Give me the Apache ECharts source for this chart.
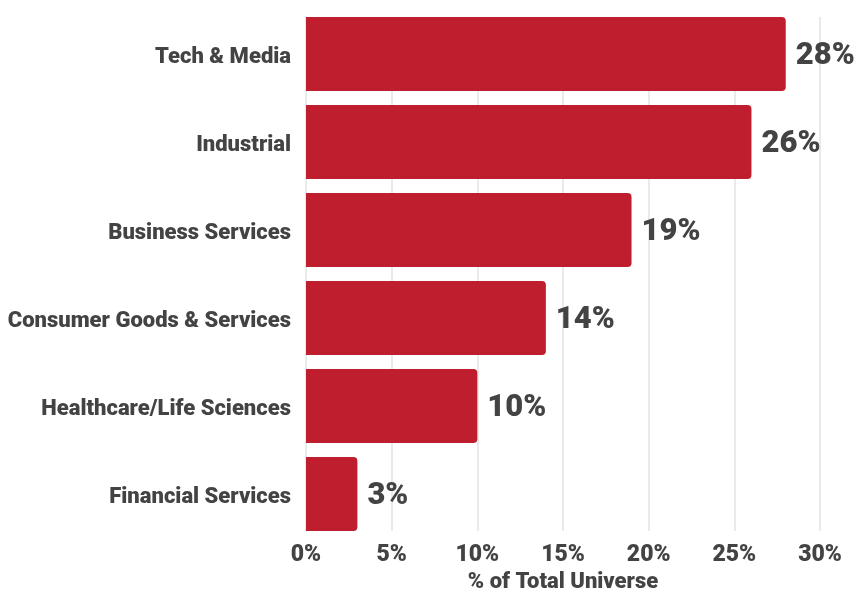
<!DOCTYPE html>
<html>
<head>
<meta charset="utf-8">
<script src="https://cdn.jsdelivr.net/npm/echarts@6/dist/echarts.min.js"></script>
<style>
  html, body { margin: 0; padding: 0; background: #fff; }
  #chart { width: 858px; height: 590px; }
</style>
</head>
<body>
<div id="chart"></div>
<script>
// Share of the total universe by sector (top to bottom)
const sectors = [
  'Tech & Media',
  'Industrial',
  'Business Services',
  'Consumer Goods & Services',
  'Healthcare/Life Sciences',
  'Financial Services'
];
const shares = [28, 26, 19, 14, 10, 3];
const tickValues = [0, 5, 10, 15, 20, 25, 30];
const axisTitle = '% of Total Universe';

const FONT = 'Roboto, "Liberation Sans", sans-serif';
const WEIGHT = 900;
const INK = '#434343';
const BAR = '#BE1E2D';

const chart = echarts.init(document.getElementById('chart'), null, { renderer: 'canvas' });

chart.setOption({
  animation: false,
  backgroundColor: '#ffffff',
  grid: [
    // gridlines + x tick labels, spanning the bars only
    { left: 306, right: 38, top: 17, bottom: 59, containLabel: false, outerBoundsMode: 'none' },
    // bars + category labels
    { left: 306, right: 38, top: 10, bottom: 52, containLabel: false, outerBoundsMode: 'none' }
  ],
  xAxis: [
    {
      gridIndex: 0,
      type: 'value',
      min: tickValues[0],
      max: tickValues[tickValues.length - 1],
      interval: 5,
      axisLine: { show: false },
      axisTick: { show: false },
      splitLine: { show: true, lineStyle: { color: '#e3e3e3', width: 1.5 } },
      axisLabel: {
        margin: 13,
        formatter: v => v + '%',
        color: INK,
        fontFamily: FONT,
        fontWeight: WEIGHT,
        fontSize: 23
      },
      name: axisTitle,
      nameLocation: 'middle',
      nameGap: 37,
      nameTextStyle: {
        color: INK,
        fontFamily: FONT,
        fontWeight: WEIGHT,
        fontSize: 22
      }
    },
    {
      gridIndex: 1,
      type: 'value',
      min: tickValues[0],
      max: tickValues[tickValues.length - 1],
      interval: 5,
      show: false,
      splitLine: { show: false }
    }
  ],
  yAxis: [
    {
      gridIndex: 0,
      type: 'category',
      data: sectors,
      inverse: true,
      show: false
    },
    {
      gridIndex: 1,
      type: 'category',
      data: sectors,
      inverse: true,
      axisLine: { show: false },
      axisTick: { show: false },
      splitLine: { show: false },
      axisLabel: {
        margin: 15,
        formatter: v => '{s|' + v + '}',
        rich: {
          s: {
            padding: [6, 0, 0, 0],
            color: INK,
            fontFamily: FONT,
            fontWeight: WEIGHT,
            fontSize: 22
          }
        }
      }
    }
  ],
  series: [
    {
      type: 'bar',
      xAxisIndex: 1,
      yAxisIndex: 1,
      data: shares,
      barCategoryGap: '16%',
      itemStyle: { color: BAR, borderRadius: [0, 4, 4, 0] },
      label: {
        show: true,
        position: 'right',
        distance: 10,
        offset: [0, 2],
        formatter: p => p.value + '%',
        color: INK,
        fontFamily: FONT,
        fontWeight: WEIGHT,
        fontSize: 31
      }
    }
  ]
});
</script>
</body>
</html>
